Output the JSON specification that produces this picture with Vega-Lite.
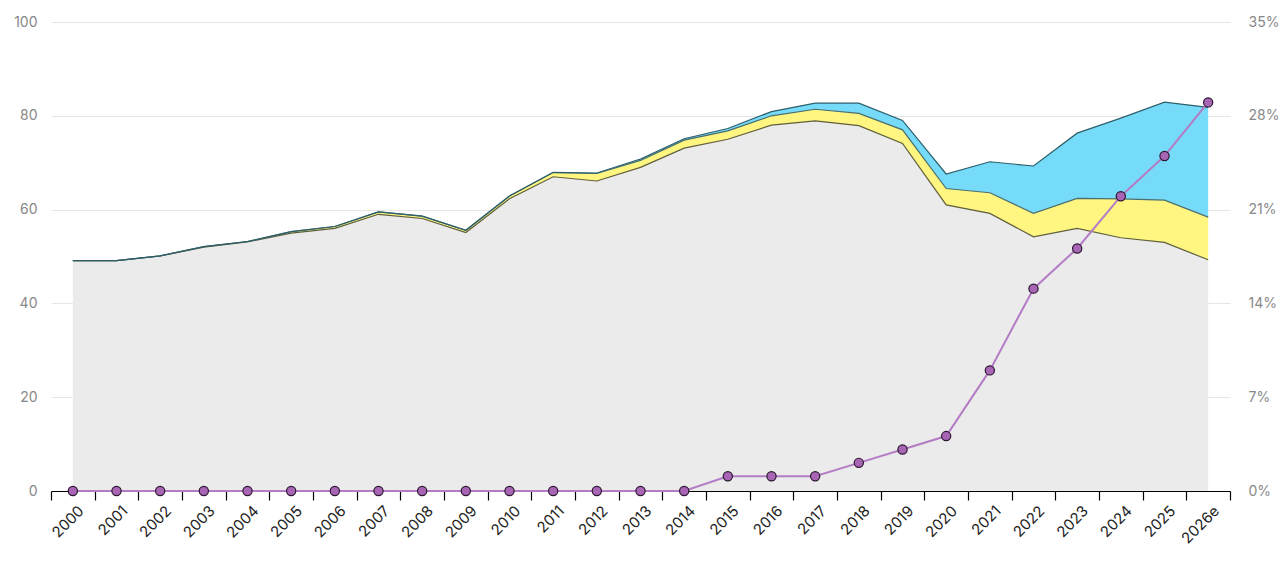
{
  "$schema": "https://vega.github.io/schema/vega-lite/v6.json",
  "width": 1179,
  "height": 469,
  "autosize": {"type": "none"},
  "padding": {"left": 51, "top": 22, "right": 50, "bottom": 72},
  "background": "white",
  "config": {"view": {"stroke": null}, "font": "Inter"},
  "datasets": {
    "areas": [
      {"year":"2000","series":"base","rank":1,"value":49.1},{"year":"2000","series":"mid","rank":2,"value":0},{"year":"2000","series":"top","rank":3,"value":0},
      {"year":"2001","series":"base","rank":1,"value":49.1},{"year":"2001","series":"mid","rank":2,"value":0},{"year":"2001","series":"top","rank":3,"value":0},
      {"year":"2002","series":"base","rank":1,"value":50.1},{"year":"2002","series":"mid","rank":2,"value":0.05},{"year":"2002","series":"top","rank":3,"value":0},
      {"year":"2003","series":"base","rank":1,"value":52.0},{"year":"2003","series":"mid","rank":2,"value":0.1},{"year":"2003","series":"top","rank":3,"value":0},
      {"year":"2004","series":"base","rank":1,"value":53.1},{"year":"2004","series":"mid","rank":2,"value":0.1},{"year":"2004","series":"top","rank":3,"value":0},
      {"year":"2005","series":"base","rank":1,"value":55.0},{"year":"2005","series":"mid","rank":2,"value":0.3},{"year":"2005","series":"top","rank":3,"value":0},
      {"year":"2006","series":"base","rank":1,"value":56.0},{"year":"2006","series":"mid","rank":2,"value":0.4},{"year":"2006","series":"top","rank":3,"value":0},
      {"year":"2007","series":"base","rank":1,"value":59.0},{"year":"2007","series":"mid","rank":2,"value":0.5},{"year":"2007","series":"top","rank":3,"value":0},
      {"year":"2008","series":"base","rank":1,"value":58.1},{"year":"2008","series":"mid","rank":2,"value":0.5},{"year":"2008","series":"top","rank":3,"value":0},
      {"year":"2009","series":"base","rank":1,"value":55.1},{"year":"2009","series":"mid","rank":2,"value":0.5},{"year":"2009","series":"top","rank":3,"value":0},
      {"year":"2010","series":"base","rank":1,"value":62.3},{"year":"2010","series":"mid","rank":2,"value":0.6},{"year":"2010","series":"top","rank":3,"value":0},
      {"year":"2011","series":"base","rank":1,"value":67.0},{"year":"2011","series":"mid","rank":2,"value":0.9},{"year":"2011","series":"top","rank":3,"value":0.05},
      {"year":"2012","series":"base","rank":1,"value":66.1},{"year":"2012","series":"mid","rank":2,"value":1.6},{"year":"2012","series":"top","rank":3,"value":0.1},
      {"year":"2013","series":"base","rank":1,"value":69.0},{"year":"2013","series":"mid","rank":2,"value":1.5},{"year":"2013","series":"top","rank":3,"value":0.3},
      {"year":"2014","series":"base","rank":1,"value":73.1},{"year":"2014","series":"mid","rank":2,"value":1.7},{"year":"2014","series":"top","rank":3,"value":0.3},
      {"year":"2015","series":"base","rank":1,"value":75.0},{"year":"2015","series":"mid","rank":2,"value":1.8},{"year":"2015","series":"top","rank":3,"value":0.5},
      {"year":"2016","series":"base","rank":1,"value":78.0},{"year":"2016","series":"mid","rank":2,"value":2.0},{"year":"2016","series":"top","rank":3,"value":0.9},
      {"year":"2017","series":"base","rank":1,"value":78.9},{"year":"2017","series":"mid","rank":2,"value":2.5},{"year":"2017","series":"top","rank":3,"value":1.3},
      {"year":"2018","series":"base","rank":1,"value":77.9},{"year":"2018","series":"mid","rank":2,"value":2.6},{"year":"2018","series":"top","rank":3,"value":2.2},
      {"year":"2019","series":"base","rank":1,"value":74.1},{"year":"2019","series":"mid","rank":2,"value":2.9},{"year":"2019","series":"top","rank":3,"value":2.0},
      {"year":"2020","series":"base","rank":1,"value":61.0},{"year":"2020","series":"mid","rank":2,"value":3.5},{"year":"2020","series":"top","rank":3,"value":3.1},
      {"year":"2021","series":"base","rank":1,"value":59.2},{"year":"2021","series":"mid","rank":2,"value":4.4},{"year":"2021","series":"top","rank":3,"value":6.6},
      {"year":"2022","series":"base","rank":1,"value":54.2},{"year":"2022","series":"mid","rank":2,"value":5.0},{"year":"2022","series":"top","rank":3,"value":10.1},
      {"year":"2023","series":"base","rank":1,"value":56.0},{"year":"2023","series":"mid","rank":2,"value":6.4},{"year":"2023","series":"top","rank":3,"value":13.9},
      {"year":"2024","series":"base","rank":1,"value":54.0},{"year":"2024","series":"mid","rank":2,"value":8.3},{"year":"2024","series":"top","rank":3,"value":17.2},
      {"year":"2025","series":"base","rank":1,"value":53.0},{"year":"2025","series":"mid","rank":2,"value":9.0},{"year":"2025","series":"top","rank":3,"value":20.9},
      {"year":"2026e","series":"base","rank":1,"value":49.3},{"year":"2026e","series":"mid","rank":2,"value":9.1},{"year":"2026e","series":"top","rank":3,"value":23.4}
    ],
    "share": [
      {"year":"2000","pct":0},{"year":"2001","pct":0},{"year":"2002","pct":0},{"year":"2003","pct":0},
      {"year":"2004","pct":0},{"year":"2005","pct":0},{"year":"2006","pct":0},{"year":"2007","pct":0},
      {"year":"2008","pct":0},{"year":"2009","pct":0},{"year":"2010","pct":0},{"year":"2011","pct":0},
      {"year":"2012","pct":0},{"year":"2013","pct":0},{"year":"2014","pct":0},{"year":"2015","pct":0.011},
      {"year":"2016","pct":0.011},{"year":"2017","pct":0.011},{"year":"2018","pct":0.021},{"year":"2019","pct":0.031},
      {"year":"2020","pct":0.041},{"year":"2021","pct":0.090},{"year":"2022","pct":0.151},{"year":"2023","pct":0.181},
      {"year":"2024","pct":0.220},{"year":"2025","pct":0.250},{"year":"2026e","pct":0.290}
    ]
  },
  "encoding": {
    "x": {
      "field": "year",
      "type": "ordinal",
      "bandPosition": 0.5,
      "scale": {
        "type": "band",
        "paddingInner": 0,
        "paddingOuter": 0,
        "domain": ["2000","2001","2002","2003","2004","2005","2006","2007","2008","2009","2010","2011","2012","2013","2014","2015","2016","2017","2018","2019","2020","2021","2022","2023","2024","2025","2026e"]
      },
      "axis": {
        "title": null,
        "tickBand": "extent",
        "labelAngle": -45,
        "labelAlign": "right",
        "labelBaseline": "top",
        "labelColor": "#222",
        "labelFontSize": 15,
        "labelPadding": 3,
        "labelOffset": 3,
        "domainColor": "#000",
        "domainWidth": 1.2,
        "tickColor": "#000",
        "tickWidth": 1.2,
        "tickSize": 9,
        "grid": false
      }
    }
  },
  "layer": [
    {
      "data": {"name": "areas"},
      "transform": [
        {"stack": "value", "groupby": ["year"], "sort": [{"field": "rank", "order": "ascending"}], "as": ["y0", "y1"]}
      ],
      "layer": [
        {
          "mark": {"type": "area", "opacity": 1},
          "encoding": {
            "y": {
              "field": "y1", "type": "quantitative",
              "scale": {"domain": [0, 100], "nice": false},
              "axis": {
                "title": null, "values": [0, 20, 40, 60, 80, 100],
                "domain": false, "ticks": false,
                "labelColor": "#888", "labelFontSize": 14, "labelPadding": 14,
                "gridColor": "#e6e6e6", "gridWidth": 1
              }
            },
            "y2": {"field": "y0"},
            "fill": {
              "field": "series", "type": "nominal",
              "scale": {"domain": ["base", "mid", "top"], "range": ["#ebebeb", "#fff682", "#76dbf9"]},
              "legend": null
            },
            "order": {"field": "rank"}
          }
        },
        {
          "mark": {"type": "line", "strokeWidth": 1.2},
          "encoding": {
            "y": {"field": "y1", "type": "quantitative"},
            "stroke": {
              "field": "series", "type": "nominal",
              "scale": {"domain": ["base", "mid", "top"], "range": ["#5f5f3c", "#4a6f6c", "#2c5f6b"]},
              "legend": null
            },
            "order": {"field": "rank"}
          }
        }
      ]
    },
    {
      "data": {"name": "share"},
      "layer": [
        {
          "mark": {"type": "line", "stroke": "#b47cc5", "strokeWidth": 2},
          "encoding": {
            "y": {
              "field": "pct", "type": "quantitative",
              "scale": {"domain": [0, 0.35], "nice": false},
              "axis": {
                "orient": "right", "title": null,
                "values": [0, 0.07, 0.14, 0.21, 0.28, 0.35],
                "format": ".0%", "grid": false, "domain": false, "ticks": false,
                "labelColor": "#888", "labelFontSize": 14, "labelPadding": 18
              }
            }
          }
        },
        {
          "mark": {"type": "point", "filled": true, "fill": "#a865b4", "stroke": "#2b1730", "strokeWidth": 1.2, "size": 85, "opacity": 1},
          "encoding": {
            "y": {"field": "pct", "type": "quantitative"}
          }
        }
      ]
    }
  ],
  "resolve": {"scale": {"y": "independent"}}
}
